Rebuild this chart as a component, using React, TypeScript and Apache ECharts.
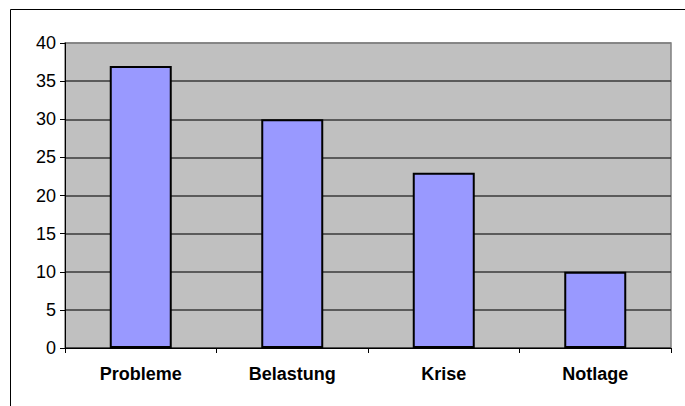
import React, { useEffect, useRef } from "react";
import * as echarts from "echarts";

const categories = ["Probleme", "Belastung", "Krise", "Notlage"];
const values = [37, 30, 23, 10];
const yTicks = [0, 5, 10, 15, 20, 25, 30, 35, 40];

const FONT = "'Liberation Sans', Arial, sans-serif";

export default function App() {
  const ref = useRef<HTMLDivElement>(null);
  useEffect(() => {
    if (!ref.current) return;
    const chart = echarts.init(ref.current, null, { renderer: "svg" });
    const splitColors = yTicks.map((_, i) => (i === yTicks.length - 1 ? "#808080" : "#3a3a3a"));
    chart.setOption({
      animation: false,
      backgroundColor: "#ffffff",
      graphic: [
        {
          type: "rect",
          shape: { x: 10.5, y: 9.5, width: 720, height: 440 },
          style: { fill: "none", stroke: "#000", lineWidth: 1 },
          z: -10,
        },
      ],
      grid: {
        left: 65,
        top: 43,
        right: 14,
        bottom: 58,
        show: true,
        backgroundColor: "#c0c0c0",
        borderColor: "#808080",
        borderWidth: 1.5,
      },
      xAxis: {
        type: "category",
        data: categories,
        axisLine: { show: true, lineStyle: { color: "#000", width: 1 } },
        axisTick: { show: true, length: 5, lineStyle: { color: "#000" } },
        axisLabel: {
          color: "#000",
          fontSize: 18,
          fontWeight: "bold",
          fontFamily: FONT,
          margin: 17,
        },
        splitLine: { show: false },
      },
      yAxis: {
        type: "value",
        min: 0,
        max: 40,
        interval: 5,
        axisLine: { show: true, lineStyle: { color: "#000", width: 1 } },
        axisTick: { show: true, length: 5, lineStyle: { color: "#000" } },
        axisLabel: {
          color: "#000",
          fontSize: 18,
          fontFamily: FONT,
          margin: 9,
        },
        splitLine: { show: true, lineStyle: { color: splitColors, width: 1.5 } },
      },
      series: [
        {
          type: "bar",
          data: values,
          barWidth: 62,
          itemStyle: { color: "#9999ff", borderColor: "#000", borderWidth: 2 },
        },
      ],
    });
    return () => chart.dispose();
  }, []);
  return (
    <div
      ref={ref}
      style={{ position: "fixed", left: 0, top: 0, width: 685, height: 406 }}
    />
  );
}
